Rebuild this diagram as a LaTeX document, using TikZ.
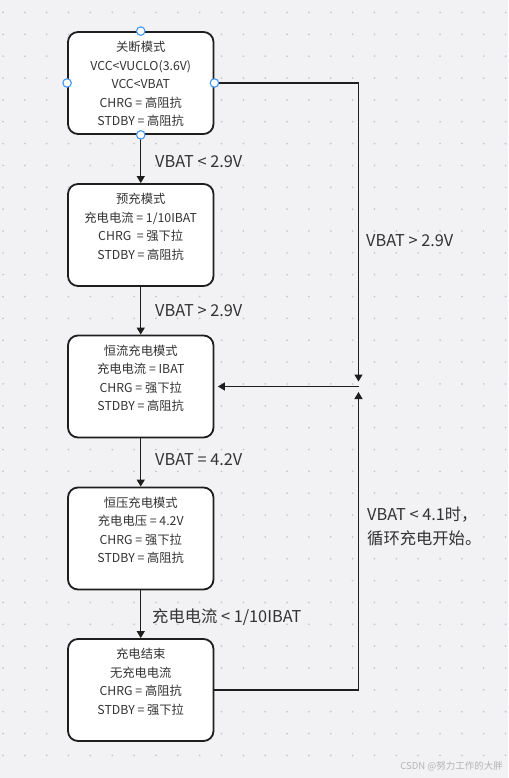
\documentclass[tikz,border=0pt]{standalone}
\usepackage{fontspec}
\setmainfont{Noto Sans CJK SC}
\usetikzlibrary{arrows.meta}
\definecolor{bg}{RGB}{242,242,244}
\definecolor{dotc}{RGB}{200,200,204}
\definecolor{txt}{RGB}{51,51,51}
\definecolor{handle}{RGB}{64,150,245}
\definecolor{wmc}{RGB}{180,180,184}
\definecolor{linec}{RGB}{30,30,30}
\begin{document}
\begin{tikzpicture}[x=1pt,y=-1pt,
  box/.style={draw=linec,line width=1.8pt,fill=white,rounded corners=10pt,minimum width=145.5pt,minimum height=102pt,inner sep=0pt},
  boxtext/.style={anchor=north,inner sep=0pt,align=center,text=txt,font=\fontsize{12.3}{18.5}\selectfont},
  lbl/.style={anchor=west,inner sep=0pt,text=txt,font=\fontsize{16.3}{24}\selectfont},
  arr/.style={draw=linec,line width=1.3pt,-{Triangle[length=7pt,width=8pt]}},
  handlec/.style={circle,draw=handle,fill=white,line width=1.1pt,minimum size=8.5pt,inner sep=0pt}]
\fill[bg] (0,0) rectangle (508,778);
\useasboundingbox (0,0) rectangle (508,778);
\foreach \i in {0,...,23} \foreach \j in {0,...,34} \fill[dotc] (3+21.85*\i,12.5+21.85*\j) circle (1pt);

\node[box] (b1) at (140.75,83) {};
\node[box] (b2) at (140.75,235) {};
\node[box] (b3) at (140.75,386.5) {};
\node[box] (b4) at (140.75,538.5) {};
\node[box] (b5) at (140.75,690) {};

\node[boxtext] (t1) at (140.75,41) {关断模式\\VCC<VUCLO(3.6V)\\VCC<VBAT\\CHRG = 高阻抗\\STDBY = 高阻抗};
\node[boxtext] (t2) at (140.75,193) {预充模式\\充电电流 = 1/10IBAT\\CHRG\ \ = 强下拉\\STDBY = 高阻抗};
\node[boxtext] (t3) at (140.75,344.5) {恒流充电模式\\充电电流 = IBAT\\CHRG = 强下拉\\STDBY = 高阻抗};
\node[boxtext] (t4) at (140.75,496.5) {恒压充电模式\\充电电压 = 4.2V\\CHRG = 强下拉\\STDBY = 高阻抗};
\node[boxtext] (t5) at (140.75,648) {充电结束\\无充电电流\\CHRG = 高阻抗\\STDBY = 强下拉};

\draw[arr] (b1.south) -- (b2.north);
\draw[arr] (b2.south) -- (b3.north);
\draw[arr] (b3.south) -- (b4.north);
\draw[arr] (b4.south) -- (b5.north);

\node[lbl] (l1) at (155,161.5) {VBAT < 2.9V};
\node[lbl] (l2) at (155,311) {VBAT > 2.9V};
\node[lbl] (l3) at (155,460) {VBAT = 4.2V};
\node[lbl] (l4) at (152,617) {充电电流 < 1/10IBAT};
\node[lbl] (l5) at (366,241) {VBAT > 2.9V};
\node[lbl,align=left] (l6) at (367,526) {VBAT < 4.1时，\\循环充电开始。};

\coordinate (j) at (358.5,386.5);
\draw[arr] (b1.east) -| ([yshift=5pt]j);
\draw[arr] (b5.east) -| ([yshift=-5.5pt]j);
\draw[arr,shorten >=3.5pt] (j) -- (b3.east);

\node[handlec] (h1) at (b1.north) {};
\node[handlec] (h2) at (b1.south) {};
\node[handlec] (h3) at (b1.west) {};
\node[handlec] (h4) at (b1.east) {};

\node[anchor=east,inner sep=0pt,text=wmc,font=\fontsize{9.5}{11}\selectfont] (wm) at (503,766) {CSDN @努力工作的大胖};
\end{tikzpicture}
\end{document}
